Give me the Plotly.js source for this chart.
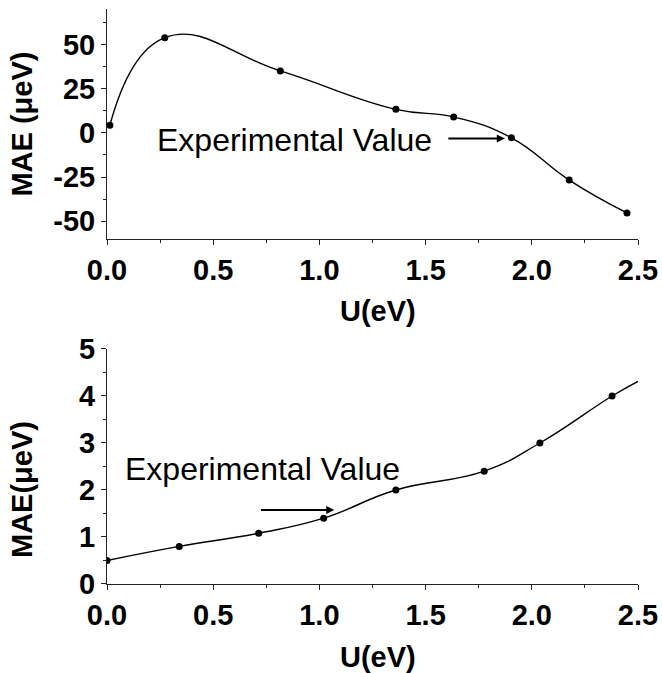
<!DOCTYPE html>
<html>
<head>
<meta charset="utf-8">
<script src="https://cdn.plot.ly/plotly-3.0.1.min.js"></script>
<style>html,body{margin:0;padding:0;background:#fff;} #chart{width:662px;height:673px;}</style>
</head>
<body>
<div id="chart"></div>
<script>
// Top panel data: U (eV) vs MAE (μeV)
const topU = [0.0136, 0.272, 0.816, 1.36, 1.632, 1.904, 2.176, 2.448];
const topMAE = [4.3, 53.8, 35.0, 13.3, 9.0, -2.8, -26.7, -45.3];

// Bottom panel data
const botU = [0.0, 0.34, 0.714, 1.02, 1.36, 1.776, 2.038, 2.378];
const botMAE = [0.5, 0.8, 1.08, 1.4, 2.0, 2.4, 3.0, 4.0];
// where the drawn curve leaves the frame on the right
const botCurveEndU = 2.5;
const botCurveEndMAE = 4.31;

// Tick labels
const xTickVals = [0, 0.5, 1.0, 1.5, 2.0, 2.5];
const xTickText = ['0.0', '0.5', '1.0', '1.5', '2.0', '2.5'];
const topYTickVals = [-50, -25, 0, 25, 50];
const topYTickText = ['-50', '-25', '0', '25', '50'];
const botYTickVals = [0, 1, 2, 3, 4, 5];
const botYTickText = ['0', '1', '2', '3', '4', '5'];

const FONT = 'Arial, "Liberation Sans", sans-serif';
const tickFont = {family: FONT, size: 29, color: '#000', weight: 'bold'};

const lineStyle = {color: '#000', width: 1.4, shape: 'spline', smoothing: 1.3};
const markerStyle = {color: '#000', size: 7, symbol: 'circle'};

const traces = [
  {x: topU, y: topMAE, xaxis: 'x', yaxis: 'y', mode: 'lines', line: lineStyle, hoverinfo: 'skip'},
  {x: topU, y: topMAE, xaxis: 'x', yaxis: 'y', mode: 'markers', marker: markerStyle},
  {x: botU.concat([botCurveEndU]), y: botMAE.concat([botCurveEndMAE]), xaxis: 'x2', yaxis: 'y2', mode: 'lines', line: lineStyle, hoverinfo: 'skip'},
  {x: botU, y: botMAE, xaxis: 'x2', yaxis: 'y2', mode: 'markers', marker: markerStyle}
];

function xAxis(anchor) {
  return {
    anchor: anchor, domain: [0, 1], range: [0, 2.5],
    showline: true, linecolor: '#222', linewidth: 1, mirror: false,
    showgrid: false, zeroline: false,
    ticks: 'outside', ticklen: 5, tickwidth: 1, tickcolor: '#222',
    tickmode: 'array', tickvals: xTickVals, ticktext: xTickText,
    tickfont: tickFont,
    minor: {ticks: 'outside', ticklen: 3, tickwidth: 1, tickcolor: '#222', dtick: 0.25, tick0: 0},
    fixedrange: true
  };
}
function yAxis(anchor, domain, range, vals, text, minorD) {
  return {
    anchor: anchor, domain: domain, range: range,
    showline: true, linecolor: '#222', linewidth: 1, mirror: false,
    showgrid: false, zeroline: false,
    ticks: 'outside', ticklen: 5, tickwidth: 1, tickcolor: '#222',
    tickmode: 'array', tickvals: vals, ticktext: text,
    tickfont: tickFont,
    minor: {ticks: 'outside', ticklen: 3, tickwidth: 1, tickcolor: '#222', dtick: minorD, tick0: 0},
    fixedrange: true
  };
}

const titleFont = {family: FONT, size: 29, color: '#000', weight: 'bold'};
const labelFont = {family: FONT, size: 32, color: '#000'};

const layout = {
  width: 662, height: 673,
  margin: {l: 107, r: 24, t: 9, b: 89},
  paper_bgcolor: '#fff', plot_bgcolor: '#fff',
  showlegend: false,
  xaxis: xAxis('y'),
  yaxis: yAxis('x', [0.6, 1], [-60, 70], topYTickVals, topYTickText, 12.5),
  xaxis2: xAxis('y2'),
  yaxis2: yAxis('x2', [0, 0.4087], [0, 5], botYTickVals, botYTickText, 0.5),
  annotations: [
    // axis titles
    {xref: 'paper', yref: 'paper', x: 0.51, y: 0.475, text: 'U(eV)', showarrow: false, font: titleFont, xanchor: 'center', yanchor: 'middle'},
    {xref: 'paper', yref: 'paper', x: 0.51, y: -0.127, text: 'U(eV)', showarrow: false, font: titleFont, xanchor: 'center', yanchor: 'middle'},
    {xref: 'paper', yref: 'paper', x: -0.16, y: 0.799, text: 'MAE (μeV)', textangle: -90, showarrow: false, font: titleFont, xanchor: 'center', yanchor: 'middle'},
    {xref: 'paper', yref: 'paper', x: -0.16, y: 0.1635, text: 'MAE(μeV)', textangle: -90, showarrow: false, font: titleFont, xanchor: 'center', yanchor: 'middle'},
    // labels
    {xref: 'x', yref: 'y', x: 0.228, y: -4.1, text: 'Experimental Value', showarrow: false, font: labelFont, xanchor: 'left', yanchor: 'middle'},
    {xref: 'x2', yref: 'y2', x: 0.075, y: 2.44, text: 'Experimental Value', showarrow: false, font: labelFont, xanchor: 'left', yanchor: 'middle'},
    // arrows
    {xref: 'x', yref: 'y', axref: 'x', ayref: 'y', x: 1.873, y: -3.2, ax: 1.60, ay: -3.2, text: '', showarrow: true, arrowhead: 2, arrowsize: 0.8, arrowwidth: 2, arrowcolor: '#000'},
    {xref: 'x2', yref: 'y2', axref: 'x2', ayref: 'y2', x: 1.07, y: 1.574, ax: 0.718, ay: 1.574, text: '', showarrow: true, arrowhead: 2, arrowsize: 0.8, arrowwidth: 2, arrowcolor: '#000'}
  ]
};

Plotly.newPlot('chart', traces, layout, {displayModeBar: false, staticPlot: true});
</script>
</body>
</html>
